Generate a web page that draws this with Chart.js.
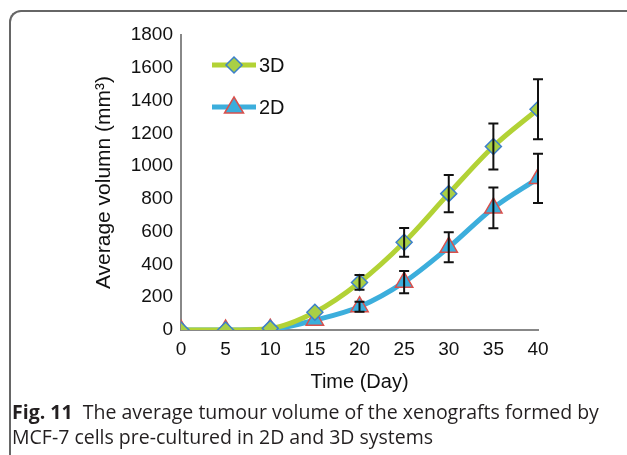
<!DOCTYPE html>
<html>
<head>
<meta charset="utf-8">
<script src="https://cdn.jsdelivr.net/npm/chart.js@4.4.0/dist/chart.umd.min.js"></script>
<style>
  body { margin: 0; background: #fff; }
  #frame {
    position: absolute; left: 9px; top: 10px; width: 640px; height: 460px;
    border-left: 2px solid #666; border-top: 2px solid #666; border-top-left-radius: 12px;
  }
  #wrap { position: absolute; left: 0; top: 0; width: 627px; height: 400px; }
  #caption {
    position: absolute; left: 12px; top: 399px; width: 612px;
    font-family: "Open Sans", sans-serif; font-size: 19.5px; line-height: 25px; color: #231f20;
  }
</style>
</head>
<body>
<div id="frame"></div>
<div id="wrap"><canvas id="myChart" width="627" height="400"></canvas></div>
<div id="caption"><b>Fig. 11</b>&nbsp; The average tumour volume of the xenografts formed by<br>MCF-7 cells pre-cultured in 2D and 3D systems</div>
<script>
const days = [0, 5, 10, 15, 20, 25, 30, 35, 40];
const vol3D = [0, 0, 10, 108, 290, 535, 832, 1120, 1347];
const err3D = [0, 0, 5, 15, 45, 88, 114, 140, 183];
const vol2D = [0, 0, 5, 60, 142, 292, 505, 745, 925];
const err2D = [0, 0, 3, 10, 30, 68, 92, 124, 150];
const yTicks = [0, 200, 400, 600, 800, 1000, 1200, 1400, 1600, 1800];

const green = '#b2d235';
const blue = '#3caedc';

const errorBars = {
  id: 'errorBars',
  afterDatasetsDraw(chart) {
    const ctx = chart.ctx;
    const x = chart.scales.x, y = chart.scales.y;
    ctx.save();
    ctx.strokeStyle = '#111';
    ctx.lineWidth = 2;
    [[vol3D, err3D], [vol2D, err2D]].forEach(function (pair) {
      pair[0].forEach(function (v, i) {
        const e = pair[1][i];
        if (e < 20) return;
        const px = x.getPixelForValue(days[i]);
        const top = y.getPixelForValue(v + e);
        const bot = y.getPixelForValue(v - e);
        ctx.beginPath();
        ctx.moveTo(px, top); ctx.lineTo(px, bot);
        ctx.moveTo(px - 5, top); ctx.lineTo(px + 5, top);
        ctx.moveTo(px - 5, bot); ctx.lineTo(px + 5, bot);
        ctx.stroke();
      });
    });
    ctx.restore();
  },
  afterDraw(chart) {
    // legend inside plot
    const ctx = chart.ctx;
    const a = chart.chartArea;
    ctx.save();
    chart.data.datasets.forEach(function (ds, i) {
      const cy = a.top + 30 + i * 42;
      const x0 = a.left + 31;
      const cx = x0 + 22;
      ctx.strokeStyle = ds.borderColor;
      ctx.lineWidth = 5;
      ctx.beginPath(); ctx.moveTo(x0, cy); ctx.lineTo(x0 + 44, cy); ctx.stroke();
      ctx.fillStyle = ds.pointBackgroundColor;
      ctx.strokeStyle = ds.pointBorderColor;
      ctx.lineWidth = ds.pointBorderWidth;
      ctx.beginPath();
      const r = ds.pointRadius;
      if (ds.pointStyle === 'rectRot') {
        ctx.moveTo(cx, cy - r); ctx.lineTo(cx + r, cy);
        ctx.lineTo(cx, cy + r); ctx.lineTo(cx - r, cy);
      } else {
        ctx.moveTo(cx, cy - r); ctx.lineTo(cx + r * 0.95, cy + r * 0.6);
        ctx.lineTo(cx - r * 0.95, cy + r * 0.6);
      }
      ctx.closePath(); ctx.fill(); ctx.stroke();
      ctx.fillStyle = '#111';
      ctx.font = '20px "Liberation Sans", Arial, sans-serif';
      ctx.textBaseline = 'middle';
      ctx.fillText(ds.label, x0 + 47, cy + 1);
    });
    ctx.restore();
  }
};

const ctx = document.getElementById('myChart');
new Chart(ctx, {
  type: 'line',
  data: {
    datasets: [{
      label: '3D',
      data: days.map((d, i) => ({ x: d, y: vol3D[i] })),
      borderColor: green,
      borderWidth: 5,
      cubicInterpolationMode: 'monotone',
      pointStyle: 'rectRot',
      pointRadius: 8,
      pointBackgroundColor: '#a9cf45',
      pointBorderColor: '#3b7fcc',
      pointBorderWidth: 1.5
    }, {
      label: '2D',
      data: days.map((d, i) => ({ x: d, y: vol2D[i] })),
      borderColor: blue,
      borderWidth: 5,
      cubicInterpolationMode: 'monotone',
      pointStyle: 'triangle',
      pointRadius: 10,
      pointBackgroundColor: '#3aaedc',
      pointBorderColor: '#d9504c',
      pointBorderWidth: 1.5
    }]
  },
  options: {
    responsive: false,
    animation: false,
    layout: { padding: { left: 92, right: 89, top: 35, bottom: 6 } },
    plugins: { legend: { display: false }, tooltip: { enabled: false } },
    scales: {
      x: {
        type: 'linear', min: 0, max: 40,
        afterBuildTicks(s) { s.ticks = days.map(v => ({ value: v })); },
        afterFit(s) { s.height = 64; },
        grid: { display: false, drawTicks: true, tickLength: 6, tickColor: '#888' },
        border: { color: '#888', width: 2 },
        ticks: { color: '#111', font: { family: '"Liberation Sans", Arial', size: 19 }, padding: 2, maxRotation: 0,
                 callback: v => String(v) },
        title: { display: true, text: 'Time (Day)', color: '#111', font: { family: '"Liberation Sans", Arial', size: 20 }, padding: 0 }
      },
      y: {
        min: 0, max: 1800,
        afterBuildTicks(s) { s.ticks = yTicks.map(v => ({ value: v })); },
        afterFit(s) { s.width = 89; },
        grid: { display: false, drawTicks: true, tickLength: 6, tickColor: '#888' },
        border: { color: '#888', width: 2 },
        ticks: { color: '#111', font: { family: '"Liberation Sans", Arial', size: 19 }, padding: 2,
                 callback: v => String(v) },
        title: { display: true, text: 'Average volumn (mm³)', color: '#111', font: { family: '"Liberation Sans", Arial', size: 21 }, padding: 0 }
      }
    }
  },
  plugins: [errorBars]
});
</script>
</body>
</html>
